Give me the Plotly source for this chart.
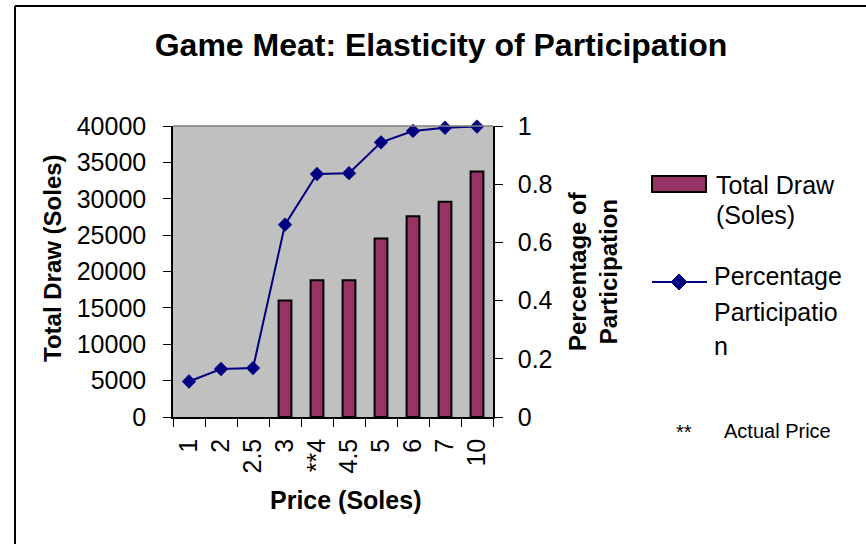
import plotly.graph_objects as go

# Price points (Soles) and the two series drawn against them
price_labels = ["1", "2", "2.5", "3", "**4", "4.5", "5", "6", "7", "10"]
total_draw = [None, None, None, 16000, 18800, 18800, 24550, 27600, 29600, 33750]
participation = [0.122, 0.165, 0.168, 0.661, 0.835, 0.838, 0.944, 0.983, 0.994, 0.998]

left_ticks = [0, 5000, 10000, 15000, 20000, 25000, 30000, 35000, 40000]
right_ticks = [0, 0.2, 0.4, 0.6, 0.8, 1]

W, H = 866, 544
PL, PR, PT, PB = 173, 493, 126, 417   # plot-area box in pixels
FONT = "Liberation Sans, Arial, sans-serif"
BAR_COLOR = "#993366"
LINE_COLOR = "#000080"


def px(x):
    return (x - PL) / (PR - PL)


def py(y):
    return (PB - y) / (PB - PT)


fig = go.Figure()
fig.add_trace(go.Bar(
    x=price_labels, y=total_draw, name="Total Draw (Soles)",
    marker=dict(color=BAR_COLOR, line=dict(color="black", width=2)),
    width=0.4, yaxis="y",
))
fig.add_trace(go.Scatter(
    x=price_labels, y=participation, name="Percentage Participation",
    mode="lines+markers",
    line=dict(color=LINE_COLOR, width=2),
    marker=dict(symbol="diamond", size=11, color=LINE_COLOR),
    yaxis="y2", cliponaxis=False,
))

shapes = [
    # plot-area top edge
    dict(type="line", xref="paper", yref="paper", x0=0, x1=1, y0=1, y1=1,
         line=dict(color="#808080", width=1.5)),
    # outer frame (left and top)
    dict(type="line", xref="paper", yref="paper", x0=px(15), x1=px(15), y0=py(6), y1=py(H + 5),
         line=dict(color="black", width=2)),
    dict(type="line", xref="paper", yref="paper", x0=px(15), x1=px(W + 5), y0=py(6), y1=py(6),
         line=dict(color="black", width=2)),
    # legend: bar swatch
    dict(type="rect", xref="paper", yref="paper", x0=px(652), x1=px(706), y0=py(192), y1=py(176),
         fillcolor=BAR_COLOR, line=dict(color="black", width=2)),
    # legend: line with diamond
    dict(type="line", xref="paper", yref="paper", x0=px(652), x1=px(707), y0=py(282), y1=py(282),
         line=dict(color=LINE_COLOR, width=2)),
    dict(type="path", xref="paper", yref="paper",
         path=(f"M {px(679)} {py(274)} L {px(687)} {py(282)} "
               f"L {px(679)} {py(290)} L {px(671)} {py(282)} Z"),
         fillcolor=LINE_COLOR, line=dict(color=LINE_COLOR, width=1)),
]


def note(text, x, y, size=25, bold=False, angle=0, xanchor="center"):
    return dict(text=text, xref="paper", yref="paper", x=px(x), y=py(y),
                xanchor=xanchor, yanchor="middle", showarrow=False, textangle=angle,
                font=dict(family=FONT, size=size, color="black",
                          weight="bold" if bold else "normal"))


annotations = [
    note("Total Draw (Soles)", 52, 258, size=24, bold=True, angle=-90),
    note("Percentage of<br>Participation", 593, 271, size=24, bold=True, angle=-90),
    note("Price (Soles)", 345, 500, size=25, bold=True),
    note("Total Draw", 714, 185, xanchor="left"),
    note("(Soles)", 714, 215, xanchor="left"),
    note("Percentage", 712, 276, xanchor="left"),
    note("Participatio", 712, 312, xanchor="left"),
    note("n", 712, 346, xanchor="left"),
    note("**", 684, 432, size=20),
    note("Actual Price", 722, 431, size=20, xanchor="left"),
]

fig.update_layout(
    width=W, height=H,
    margin=dict(l=PL, r=W - PR, t=PT, b=H - PB, autoexpand=False),
    paper_bgcolor="white",
    plot_bgcolor="#C0C0C0",
    showlegend=False,
    title=dict(text="Game Meat: Elasticity of Participation",
               x=441 / W, xref="container", xanchor="center",
               y=1 - 45 / H, yref="container", yanchor="middle",
               font=dict(family=FONT, size=32, color="black", weight="bold")),
    font=dict(family=FONT, size=25, color="black"),
    xaxis=dict(
        type="category", categoryorder="array", categoryarray=price_labels,
        range=[-0.5, len(price_labels) - 0.5],
        tickmode="array", tickvals=price_labels, ticktext=price_labels,
        tickangle=-90, tickson="boundaries",
        ticks="outside", ticklen=8, tickwidth=1, tickcolor="black",
        ticklabelstandoff=10,
        showline=True, linecolor="black", linewidth=1.5,
        showgrid=False, zeroline=False,
        tickfont=dict(family=FONT, size=25),
    ),
    yaxis=dict(
        range=[0, 40000], tickmode="array", tickvals=left_ticks,
        ticktext=[str(v) for v in left_ticks],
        ticks="outside", ticklen=8, tickwidth=1, tickcolor="black",
        ticklabelstandoff=12,
        showline=True, linecolor="black", linewidth=1.5,
        showgrid=False, zeroline=False,
        tickfont=dict(family=FONT, size=25),
    ),
    yaxis2=dict(
        range=[0, 1], overlaying="y", side="right",
        tickmode="array", tickvals=right_ticks,
        ticktext=["0", "0.2", "0.4", "0.6", "0.8", "1"],
        ticks="outside", ticklen=8, tickwidth=1, tickcolor="black",
        ticklabelstandoff=10,
        showline=True, linecolor="black", linewidth=1.5,
        showgrid=False, zeroline=False,
        tickfont=dict(family=FONT, size=25),
    ),
    shapes=shapes,
    annotations=annotations,
)

fig.write_html("out.html")
